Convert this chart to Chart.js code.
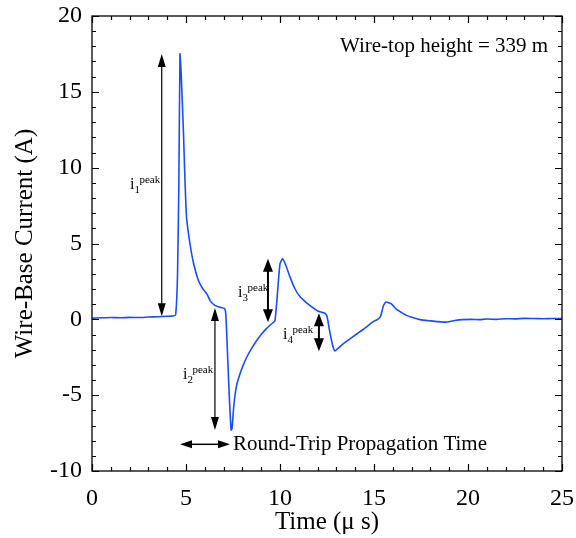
<!DOCTYPE html>
<html><head>
<meta charset="utf-8">
<script src="https://cdn.jsdelivr.net/npm/chart.js@4.4.1/dist/chart.umd.min.js"></script>
<style>html,body{margin:0;padding:0;background:#fff}</style>
</head><body>
<div style="width:576px;height:538px"><canvas id="c" width="576" height="538"></canvas></div>
<script>
// Time in microseconds
const times = [0,0.5,1.0,1.5,2.0,2.5,3.0,3.5,4.0,4.3,4.45,4.55,4.62,4.68,4.75,4.86,4.95,5.03,5.21,5.4,5.65,5.9,6.1,6.3,6.54,6.8,7.05,7.12,7.2,7.3,7.4,7.45,7.55,7.7,7.87,8.05,8.23,8.5,8.76,9.0,9.29,9.56,9.73,9.85,10.0,10.14,10.3,10.53,10.8,11.06,11.4,11.77,12.0,12.39,12.5,12.66,12.84,12.93,13.1,13.37,13.7,14.1,14.5,14.96,15.2,15.35,15.5,15.64,15.94,16.2,16.4,16.73,17.1,17.45,18.0,18.4,18.87,19.3,19.7,20.2,20.6,21.0,21.5,22.0,22.5,23.0,23.5,24.0,24.5,25.0];
// Wire-base current in amperes
const currents = [0.08,0.1,0.12,0.1,0.13,0.12,0.15,0.17,0.2,0.22,0.3,3,9,17.5,16,12.5,9,6.7,5.0,3.7,2.6,2.0,1.7,1.2,0.92,0.8,0.72,0.3,-2,-5,-7.3,-7.2,-5.6,-4.3,-3.6,-3.0,-2.5,-1.9,-1.4,-1.0,-0.6,-0.29,-0.1,1.5,3.67,4.0,3.6,2.8,2.0,1.5,1.1,0.75,0.55,0.4,0.2,-0.9,-1.9,-2.09,-1.9,-1.6,-1.3,-0.95,-0.6,-0.15,0.0,0.2,0.9,1.14,1.0,0.65,0.5,0.26,0.1,-0.02,-0.1,-0.15,-0.18,-0.08,-0.02,0.0,-0.02,0.02,0.0,0.04,0.03,0.06,0.05,0.04,0.05,0.05];
const xTicks = [0,5,10,15,20,25];
const yTicks = [-10,-5,0,5,10,15,20];

// Annotation arrows (data coordinates)
const arrowX = [3.71, 6.54, 9.36, 12.07];
const arrowFrom = [0.2, 0.75, -0.2, -2.11];
const arrowTo = [17.5, -7.3, 4.0, 0.4];
const arrowBold = [false, false, true, true];
const labelSub = ['1','2','3','4'];
const labelX = [2.02, 4.84, 7.77, 10.16];
const labelY = [8.57, -3.96, 1.45, -1.32];
const tripFrom = 4.68, tripTo = 7.34, tripY = -8.24;
const tripText = 'Round-Trip Propagation Time';
const heightText = 'Wire-top height = 339 m';

const SERIF = "'Liberation Serif','Times New Roman',serif";

function head(ctx, x, y, dx, dy, w, len) {
  const L = Math.hypot(dx, dy); const ux = dx / L, uy = dy / L;
  ctx.beginPath();
  ctx.moveTo(x, y);
  ctx.lineTo(x - ux * len - uy * w / 2, y - uy * len + ux * w / 2);
  ctx.lineTo(x - ux * len + uy * w / 2, y - uy * len - ux * w / 2);
  ctx.closePath(); ctx.fill();
}
function dblArrow(ctx, x1, y1, x2, y2, lw, w, len) {
  ctx.lineWidth = lw;
  const L = Math.hypot(x2 - x1, y2 - y1); const ux = (x2 - x1) / L, uy = (y2 - y1) / L;
  ctx.beginPath();
  ctx.moveTo(x1 + ux * len * 0.8, y1 + uy * len * 0.8);
  ctx.lineTo(x2 - ux * len * 0.8, y2 - uy * len * 0.8);
  ctx.stroke();
  head(ctx, x2, y2, x2 - x1, y2 - y1, w, len);
  head(ctx, x1, y1, x1 - x2, y1 - y2, w, len);
}

const framePlugin = {
  id: 'frame',
  afterDraw(chart) {
    const ctx = chart.ctx, a = chart.chartArea;
    const xs = chart.scales.x, ys = chart.scales.y;
    ctx.save();
    ctx.strokeStyle = '#000'; ctx.fillStyle = '#000';
    ctx.lineWidth = 1.3;
    ctx.strokeRect(a.left, a.top, a.right - a.left, a.bottom - a.top);
    ctx.lineWidth = 1.2;
    for (let v = xs.min; v <= xs.max; v += 1) {
      const p = Math.round(xs.getPixelForValue(v)) + 0.5;
      const l = (v % 5 === 0) ? 7 : 4;
      ctx.beginPath();
      ctx.moveTo(p, a.bottom); ctx.lineTo(p, a.bottom - l);
      ctx.moveTo(p, a.top); ctx.lineTo(p, a.top + l);
      ctx.stroke();
    }
    for (let v = ys.min; v <= ys.max; v += 1) {
      const p = Math.round(ys.getPixelForValue(v)) + 0.5;
      const l = (v % 5 === 0) ? 7 : 4;
      ctx.beginPath();
      ctx.moveTo(a.left, p); ctx.lineTo(a.left + l, p);
      ctx.moveTo(a.right, p); ctx.lineTo(a.right - l, p);
      ctx.stroke();
    }
    // annotations
    for (let i = 0; i < arrowX.length; i++) {
      const x = xs.getPixelForValue(arrowX[i]);
      const y1 = ys.getPixelForValue(arrowFrom[i]);
      const y2 = ys.getPixelForValue(arrowTo[i]);
      if (arrowBold[i]) dblArrow(ctx, x, y1, x, y2, 2, 10, 13);
      else dblArrow(ctx, x, y1, x, y2, 1.2, 8, 13);
      const lx = xs.getPixelForValue(labelX[i]);
      const ly = ys.getPixelForValue(labelY[i]);
      ctx.textAlign = 'left'; ctx.textBaseline = 'alphabetic';
      ctx.font = '16px ' + SERIF;
      ctx.fillText('i', lx, ly);
      const iw = ctx.measureText('i').width;
      ctx.font = '11px ' + SERIF;
      ctx.fillText(labelSub[i], lx + iw, ly + 4);
      ctx.fillText('peak', lx + iw + 5, ly - 6);
    }
    const tx1 = xs.getPixelForValue(tripFrom), tx2 = xs.getPixelForValue(tripTo);
    const ty = ys.getPixelForValue(tripY);
    dblArrow(ctx, tx1, ty, tx2, ty, 1.5, 8, 12);
    ctx.font = '21px ' + SERIF;
    ctx.textAlign = 'left'; ctx.textBaseline = 'middle';
    ctx.fillText(tripText, tx2 + 3, ty);
    ctx.textAlign = 'right'; ctx.textBaseline = 'alphabetic';
    ctx.font = '21px ' + SERIF;
    ctx.fillText(heightText, xs.getPixelForValue(24.26), ys.getPixelForValue(17.6));
    ctx.restore();
  }
};

new Chart(document.getElementById('c'), {
  type: 'line',
  data: {
    datasets: [{
      data: times.map((t, i) => ({ x: t, y: currents[i] })),
      borderColor: '#1a4dff',
      borderWidth: 1.6,
      pointRadius: 0,
      tension: 0.15,
      fill: false
    }]
  },
  options: {
    responsive: false,
    animation: false,
    devicePixelRatio: 1,
    layout: { padding: { top: 16, right: 14, left: 0, bottom: 0 } },
    plugins: { legend: { display: false }, tooltip: { enabled: false } },
    scales: {
      x: {
        type: 'linear', min: 0, max: 25,
        afterFit(s) { s.height = 67; s.paddingLeft = 0; s.paddingRight = 0; },
        afterBuildTicks(s) { s.ticks = xTicks.map(v => ({ value: v })); },
        grid: { display: false, drawTicks: false },
        border: { display: false },
        ticks: { color: '#000', font: { family: SERIF, size: 24 }, padding: 13, maxRotation: 0 },
        title: { display: true, text: 'Time (μ s)', color: '#000', font: { family: SERIF, size: 25 }, padding: { top: 0, bottom: 1 } }
      },
      y: {
        type: 'linear', min: -10, max: 20,
        afterFit(s) { s.width = 92; s.paddingTop = 0; s.paddingBottom = 0; },
        afterBuildTicks(s) { s.ticks = yTicks.map(v => ({ value: v })); },
        grid: { display: false, drawTicks: false },
        border: { display: false },
        ticks: { color: '#000', font: { family: SERIF, size: 24 }, padding: 10 },
        title: { display: true, text: 'Wire-Base Current (A)', color: '#000', font: { family: SERIF, size: 25 }, padding: { top: 10, bottom: 0 } }
      }
    }
  },
  plugins: [framePlugin]
});
</script>
</body></html>
